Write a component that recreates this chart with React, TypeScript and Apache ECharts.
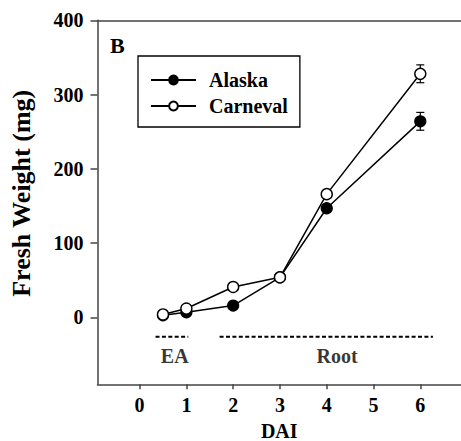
import React, { useEffect, useRef } from 'react';
import * as echarts from 'echarts';

const days = [0.5, 1, 2, 3, 4, 6];
const alaska = [3, 7, 16, 54, 147, 264];
const alaskaErr = [1, 1, 2, 3, 5, 12];
const carneval = [4, 12, 41, 54, 166, 328];
const carnevalErr = [1, 2, 3, 3, 5, 12];
const xTicks = [0, 1, 2, 3, 4, 5, 6];
const yTicks = [0, 100, 200, 300, 400];
const stageNames = ['EA', 'Root'];
const stageLabelX = [0.75, 4.22];
const stageLabelY = -52;
const stageBarStart = [0.34, 1.71];
const stageBarEnd = [1.04, 6.27];
const stageBarY = -26;

const FONT = '"Liberation Serif", "Times New Roman", serif';

export default function App() {
  const ref = useRef<HTMLDivElement>(null);
  useEffect(() => {
    if (!ref.current) return;
    const chart = echarts.init(ref.current, undefined, { renderer: 'svg' });
    const errData = [
      ...days.map((d, i) => [d, alaska[i], alaskaErr[i]]),
      ...days.map((d, i) => [d, carneval[i], carnevalErr[i]]),
    ];
    const dashSeries = stageNames.map((n, i) => ({
      type: 'line',
      name: n + '-bar',
      data: [
        [stageBarStart[i], stageBarY],
        [stageBarEnd[i], stageBarY],
      ],
      symbol: 'none',
      silent: true,
      lineStyle: { color: '#000', width: 2.2, type: [4, 2.4] },
      z: 1,
    }));
    chart.setOption({
      animation: false,
      textStyle: { fontFamily: FONT },
      grid: { left: 97.5, top: 20.3, right: 0, bottom: 56.7, containLabel: false, outerBoundsMode: 'none' },
      legend: {
        data: ['Alaska', 'Carneval'],
        orient: 'vertical',
        left: 138,
        top: 56,
        borderColor: '#000',
        borderWidth: 1.3,
        padding: [14, 12, 11, 12],
        itemWidth: 45,
        itemHeight: 11,
        itemGap: 6,
        textStyle: {
          fontFamily: FONT,
          fontWeight: 'bold',
          fontSize: 20,
          color: '#000',
          padding: [0, 0, 0, 8],
        },
      },
      xAxis: [
        {
          type: 'value',
          min: -0.9,
          max: 6.87,
          name: 'DAI',
          nameLocation: 'middle',
          nameGap: 37,
          nameTextStyle: { fontFamily: FONT, fontWeight: 'bold', fontSize: 20, color: '#000' },
          axisLine: { show: true, onZero: false, lineStyle: { color: '#444', width: 1.5 } },
          axisTick: { show: true, length: 5, customValues: xTicks, lineStyle: { color: '#444', width: 1.5 } },
          axisLabel: {
            customValues: xTicks,
            margin: 11,
            fontFamily: FONT,
            fontWeight: 'bold',
            fontSize: 20,
            color: '#000',
          },
          splitLine: { show: false },
        },
        {
          type: 'value',
          position: 'top',
          min: -0.9,
          max: 6.87,
          axisLine: { show: true, onZero: false, lineStyle: { color: '#444', width: 1.5 } },
          axisTick: { show: false },
          axisLabel: { show: false },
          splitLine: { show: false },
        },
      ],
      yAxis: {
        type: 'value',
        min: -90,
        max: 400,
        name: 'Fresh Weight (mg)',
        nameLocation: 'middle',
        nameRotate: 90,
        nameGap: 63,
        nameTextStyle: {
          fontFamily: FONT,
          fontWeight: 'bold',
          fontSize: 26,
          color: '#000',
          padding: [0, 0, 0, 18],
        },
        axisLine: { show: true, onZero: false, lineStyle: { color: '#444', width: 1.5 } },
        axisTick: { show: true, length: 7, customValues: yTicks, lineStyle: { color: '#444', width: 1.5 } },
        axisLabel: {
          customValues: yTicks,
          margin: 14,
          fontFamily: FONT,
          fontWeight: 'bold',
          fontSize: 20,
          color: '#000',
        },
        splitLine: { show: false },
      },
      graphic: [
        {
          type: 'text',
          left: 110,
          top: 34,
          style: { text: 'B', fontFamily: FONT, fontWeight: 'bold', fontSize: 22, fill: '#000' },
        },
      ],
      series: [
        ...dashSeries,
        {
          type: 'custom',
          name: 'err',
          silent: true,
          z: 1,
          data: errData,
          renderItem: (params: any, api: any) => {
            const x = api.value(0);
            const y = api.value(1);
            const e = api.value(2);
            const top = api.coord([x, y + e]);
            const bot = api.coord([x, y - e]);
            const w = 4;
            const st = { stroke: '#000', lineWidth: 1.2 };
            return {
              type: 'group',
              children: [
                { type: 'line', shape: { x1: top[0], y1: top[1], x2: bot[0], y2: bot[1] }, style: st },
                { type: 'line', shape: { x1: top[0] - w, y1: top[1], x2: top[0] + w, y2: top[1] }, style: st },
                { type: 'line', shape: { x1: bot[0] - w, y1: bot[1], x2: bot[0] + w, y2: bot[1] }, style: st },
              ],
            };
          },
        },
        {
          type: 'line',
          name: 'Alaska',
          data: days.map((d, i) => [d, alaska[i]]),
          symbol: 'circle',
          symbolSize: 11,
          z: 3,
          lineStyle: { color: '#000', width: 1.5 },
          itemStyle: { color: '#000', borderColor: '#000', borderWidth: 1.2 },
        },
        {
          type: 'line',
          name: 'Carneval',
          data: days.map((d, i) => [d, carneval[i]]),
          symbol: 'circle',
          symbolSize: 11,
          z: 4,
          lineStyle: { color: '#000', width: 1.5 },
          itemStyle: { color: '#fff', borderColor: '#000', borderWidth: 1.4 },
        },
        {
          type: 'scatter',
          name: 'stages',
          silent: true,
          symbol: 'circle',
          symbolSize: 1,
          itemStyle: { color: 'rgba(0,0,0,0)' },
          data: stageNames.map((n, i) => ({ name: n, value: [stageLabelX[i], stageLabelY] })),
          label: {
            show: true,
            position: 'inside',
            formatter: '{b}',
            fontFamily: FONT,
            fontWeight: 'bold',
            fontSize: 20,
            color: '#000',
          },
        },
      ],
    });
    return () => chart.dispose();
  }, []);
  return (
    <div
      ref={ref}
      style={{ position: 'fixed', left: 0, top: 0, width: 461, height: 441, background: '#fff' }}
    />
  );
}
